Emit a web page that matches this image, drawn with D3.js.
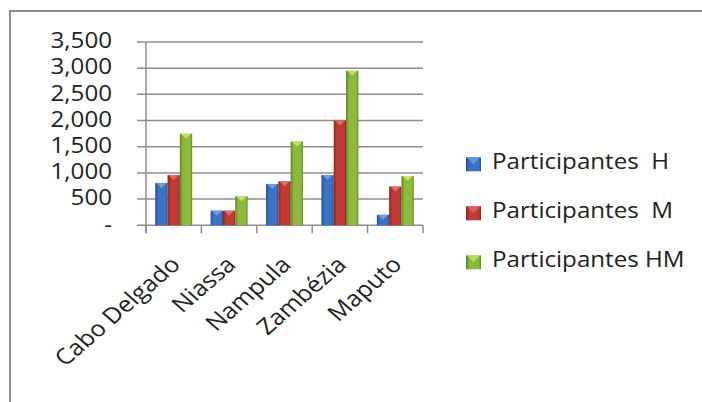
<!DOCTYPE html>
<html>
<head>
<meta charset="utf-8">
<script src="https://cdn.jsdelivr.net/npm/d3@7"></script>
<style>
  html, body { margin: 0; padding: 0; background: #fff; }
  svg { display: block; }
  text { font-family: 'Open Sans', sans-serif; fill: #000; }
</style>
</head>
<body>
<svg id="chart" width="702" height="402"></svg>
<script>
  'use strict';

  var categories = ['Cabo Delgado', 'Niassa', 'Nampula', 'Zambézia', 'Maputo'];
  var seriesNames = ['Participantes  H', 'Participantes  M', 'Participantes HM'];
  var valuesH = [810, 280, 790, 960, 200];
  var valuesM = [960, 280, 840, 2000, 740];
  var valuesHM = [1750, 555, 1600, 2950, 940];
  var yTicks = [0, 500, 1000, 1500, 2000, 2500, 3000, 3500];

  var colors = [
    {base: '#3a73c2', dark: '#23508f', light: '#6b9be0'},
    {base: '#c23a33', dark: '#8a2522', light: '#e46a62'},
    {base: '#8dba3c', dark: '#5f8424', light: '#c2e36a'}
  ];

  // the source picture is stretched sideways
  var stretch = 1.15;

  var svg = d3.select('#chart');
  var defs = svg.append('defs');

  colors.forEach(function(c, i) {
    var grad = defs.append('linearGradient')
      .attr('id', 'bar' + i)
      .attr('x1', 0).attr('x2', 1).attr('y1', 0).attr('y2', 0);
    grad.append('stop').attr('offset', '0%').attr('stop-color', c.dark);
    grad.append('stop').attr('offset', '25%').attr('stop-color', c.base);
    grad.append('stop').attr('offset', '55%').attr('stop-color', c.base);
    grad.append('stop').attr('offset', '85%').attr('stop-color', c.base);
    grad.append('stop').attr('offset', '100%').attr('stop-color', c.dark);
  });

  // outer frame: top and left edges only
  svg.append('path')
    .attr('d', 'M10,402 V11 H702')
    .attr('fill', 'none')
    .attr('stroke', '#8c8c8c')
    .attr('stroke-width', 2);

  var plot = {left: 146, right: 423, top: 42, bottom: 225.3};

  var x = d3.scaleBand()
    .domain(categories)
    .range([plot.left, plot.right]);

  var y = d3.scaleLinear()
    .domain([0, 3500])
    .range([plot.bottom, plot.top]);

  var g = svg.append('g');

  // gridlines with outside ticks
  g.selectAll('.grid')
    .data(yTicks)
    .enter()
    .append('line')
    .attr('class', 'grid')
    .attr('x1', plot.left - 9)
    .attr('x2', plot.right)
    .attr('y1', function(d) { return y(d); })
    .attr('y2', function(d) { return y(d); })
    .attr('stroke', '#8e8e8e')
    .attr('stroke-width', 1.5);

  // y axis line
  g.append('line')
    .attr('x1', plot.left).attr('x2', plot.left)
    .attr('y1', plot.top).attr('y2', plot.bottom + 8)
    .attr('stroke', '#8e8e8e')
    .attr('stroke-width', 1.5);

  // x ticks at category boundaries
  var bounds = categories.map(function(c) { return x(c); }).concat([plot.right]);
  g.selectAll('.xtick')
    .data(bounds)
    .enter()
    .append('line')
    .attr('class', 'xtick')
    .attr('x1', function(d) { return d; })
    .attr('x2', function(d) { return d; })
    .attr('y1', plot.bottom)
    .attr('y2', plot.bottom + 8)
    .attr('stroke', '#8e8e8e')
    .attr('stroke-width', 1.5);

  // y labels
  var fmt = d3.format(',');
  g.selectAll('.ylabel')
    .data(yTicks)
    .enter()
    .append('text')
    .attr('class', 'ylabel')
    .attr('transform', function(d) {
      return 'translate(112,' + y(d) + ') scale(' + stretch + ',1)';
    })
    .attr('dy', '0.3em')
    .attr('text-anchor', 'end')
    .style('font-size', '21px')
    .style('fill', '#222')
    .text(function(d) { return d === 0 ? '-' : fmt(d); });

  // bars
  var allSeries = [valuesH, valuesM, valuesHM];
  var bw = x.bandwidth() / 4.5;
  var inner = d3.scaleBand()
    .domain(d3.range(3))
    .range([0, bw * 3]);
  var offset = (x.bandwidth() - bw * 3) / 2;

  var rows = [];
  categories.forEach(function(cat, ci) {
    allSeries.forEach(function(vals, si) {
      rows.push({cat: cat, s: si, v: vals[ci]});
    });
  });

  var bars = g.selectAll('.bar')
    .data(rows)
    .enter()
    .append('g')
    .attr('class', 'bar');

  bars.append('rect')
    .attr('x', function(d) { return x(d.cat) + offset + inner(d.s); })
    .attr('y', function(d) { return y(d.v); })
    .attr('width', inner.bandwidth())
    .attr('height', function(d) { return y(0) - y(d.v); })
    .attr('fill', function(d) { return 'url(#bar' + d.s + ')'; });

  // light bevel on top of each bar
  bars.append('path')
    .attr('d', function(d) {
      var x0 = x(d.cat) + offset + inner(d.s);
      var w = inner.bandwidth();
      var y0 = y(d.v);
      return 'M' + (x0 + 1) + ',' + y0 + 'H' + (x0 + w - 1) + 'L' + (x0 + w / 2) + ',' + (y0 + 5) + 'Z';
    })
    .attr('fill', function(d) { return colors[d.s].light; });

  // x labels, rotated
  g.selectAll('.xlabel')
    .data(categories)
    .enter()
    .append('text')
    .attr('class', 'xlabel')
    .attr('transform', function(d) {
      var cx = x(d) + x.bandwidth() / 2 + 8;
      return 'translate(' + cx + ',' + 266 + ') scale(' + stretch + ',1) rotate(-45)';
    })
    .attr('text-anchor', 'end')
    .style('font-size', '22px')
    .style('fill', '#222')
    .text(function(d) { return d; });

  // legend
  var legend = svg.append('g')
    .selectAll('.legend')
    .data(seriesNames)
    .enter()
    .append('g')
    .attr('class', 'legend')
    .attr('transform', function(d, i) { return 'translate(466,' + (169.3 + i * 49) + ')'; });

  legend.append('rect')
    .attr('x', 0)
    .attr('y', -12)
    .attr('width', 15)
    .attr('height', 14)
    .attr('fill', function(d, i) { return 'url(#bar' + i + ')'; });

  legend.append('path')
    .attr('d', 'M1,-12H14L7.5,-5Z')
    .attr('fill', function(d, i) { return colors[i].light; })
    .attr('opacity', 0.8);

  legend.append('text')
    .attr('transform', 'translate(26,0) scale(' + stretch + ',1)')
    .attr('xml:space', 'preserve')
    .style('white-space', 'pre')
    .style('font-size', '21px')
    .style('fill', '#222')
    .text(function(d) { return d; });
</script>
</body>
</html>
